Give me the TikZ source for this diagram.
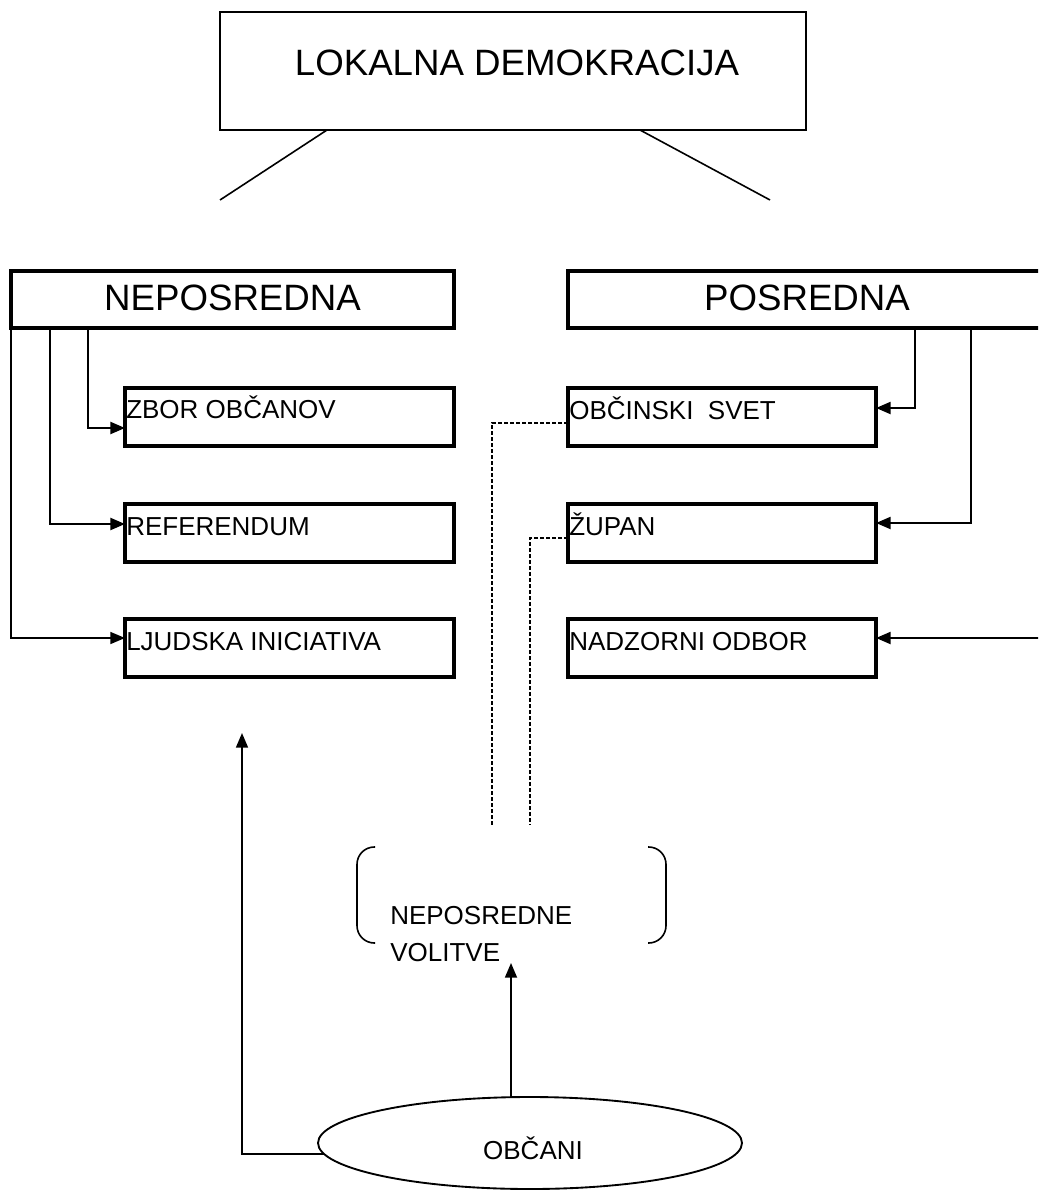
\documentclass[tikz,border=0pt]{standalone}
\usepackage{fontspec}
\setmainfont{Liberation Sans}
\usetikzlibrary{arrows.meta,shapes.geometric,calc}
\begin{document}
\begin{tikzpicture}[x=0.75pt,y=-0.75pt,
  box/.style={draw, line width=2.3pt, rectangle, inner sep=0pt, outer sep=0pt},
  bigtxt/.style={inner sep=0pt, anchor=base, font=\fontsize{27.5}{33}\selectfont},
  smalltxt/.style={inner sep=0pt, anchor=base west, font=\fontsize{19.5}{24}\selectfont},
  conn/.style={line width=1.7pt},
  thinconn/.style={line width=1.1pt},
  arr/.style={-{Triangle[length=11pt,width=9pt]}},
  dashline/.style={line width=1pt, dash pattern=on 3pt off 1.5pt},
  brack/.style={line width=1.2pt, rounded corners=13pt}
]
\useasboundingbox (0,0) rectangle (1038,1191);
\clip (0,0) rectangle (1038,1191);

% boxes
\node[box, line width=1.4pt, minimum width=586*0.75pt, minimum height=118*0.75pt] (top) at (513,71) {};
\node[box, minimum width=443*0.75pt, minimum height=57*0.75pt] (nepos) at (232.5,299.5) {};
\node[box, minimum width=478*0.75pt, minimum height=57*0.75pt] (pos) at (807,299.5) {};
\node[box, minimum width=329*0.75pt, minimum height=58*0.75pt] (zbor) at (289.5,417) {};
\node[box, minimum width=329*0.75pt, minimum height=58*0.75pt] (ref) at (289.5,533) {};
\node[box, minimum width=329*0.75pt, minimum height=58*0.75pt] (ljud) at (289.5,648) {};
\node[box, minimum width=308*0.75pt, minimum height=58*0.75pt] (obc) at (722,417) {};
\node[box, minimum width=308*0.75pt, minimum height=58*0.75pt] (zup) at (722,533) {};
\node[box, minimum width=308*0.75pt, minimum height=58*0.75pt] (nad) at (722,648) {};
\node[draw, ellipse, line width=1.4pt, inner sep=0pt, outer sep=0pt, minimum width=424*0.75pt, minimum height=92*0.75pt] (obcani) at (530,1143) {};

% texts
\node[bigtxt] (ttop) at (517,76) {LOKALNA DEMOKRACIJA};
\node[bigtxt] (tnepos) at (232.5,310) {NEPOSREDNA};
\node[bigtxt] (tpos) at (807,310) {POSREDNA};
\node[smalltxt] (tzbor) at (126,418) {ZBOR OBČANOV};
\node[smalltxt] (tref) at (126,535) {REFERENDUM};
\node[smalltxt] (tljud) at (126,650) {LJUDSKA INICIATIVA};
\node[smalltxt] (tobc) at (569,419) {OBČINSKI\ \ SVET};
\node[smalltxt] (tzup) at (569,535) {ŽUPAN};
\node[smalltxt] (tnad) at (569,650) {NADZORNI ODBOR};
\node[smalltxt] (tvol1) at (390,924) {NEPOSREDNE};
\node[smalltxt] (tvol2) at (390,961) {VOLITVE};
\node[smalltxt, anchor=base] (tobcani) at (533,1159) {OBČANI};

% free ends
\coordinate (tl) at (220,200);
\coordinate (tr) at (770,200);
\coordinate (nadin) at (1040,638);
\coordinate (d1) at (492,825);
\coordinate (d2) at (530,825);
\coordinate (voltip) at (511,963);
\coordinate (ljtip) at (242,733);

% top connectors
\draw[line width=1.2pt] ($(top.south)+(-186,0)$) -- (tl);
\draw[line width=1.2pt] ($(top.south)+(127,0)$) -- (tr);

% left connectors
\draw[conn, arr] ($(nepos.south west)+(77,0)$) |- ($(zbor.west)+(0,11)$);
\draw[conn, arr] ($(nepos.south west)+(39,0)$) |- ($(ref.west)+(0,-9)$);
\draw[thinconn, arr] ($(nepos.south west)+(0,2)$) |- ($(ljud.west)+(0,-10)$);

% right connectors
\draw[conn, arr] ($(pos.south west)+(347,0)$) |- ($(obc.east)+(0,-9)$);
\draw[conn, arr] ($(pos.south west)+(403,0)$) |- ($(zup.east)+(0,-10)$);
\draw[conn, arr] (nadin) -- ($(nad.east)+(0,-10)$);

% dashed
\draw[dashline] ($(obc.west)+(0,6)$) -| (d1);
\draw[dashline] ($(zup.west)+(0,5)$) -| (d2);

% brackets
\draw[brack] (375,847) -- (357,847) -- (357,943) -- (375,943);
\draw[brack] (648,847) -- (666,847) -- (666,943) -- (648,943);

% bottom arrows
\draw[line width=1.3pt, arr] ($(obcani.north)+(-19,0)$) -- (voltip);
\draw[line width=1.3pt, arr] (obcani.183) -| (ljtip);
\end{tikzpicture}
\end{document}
